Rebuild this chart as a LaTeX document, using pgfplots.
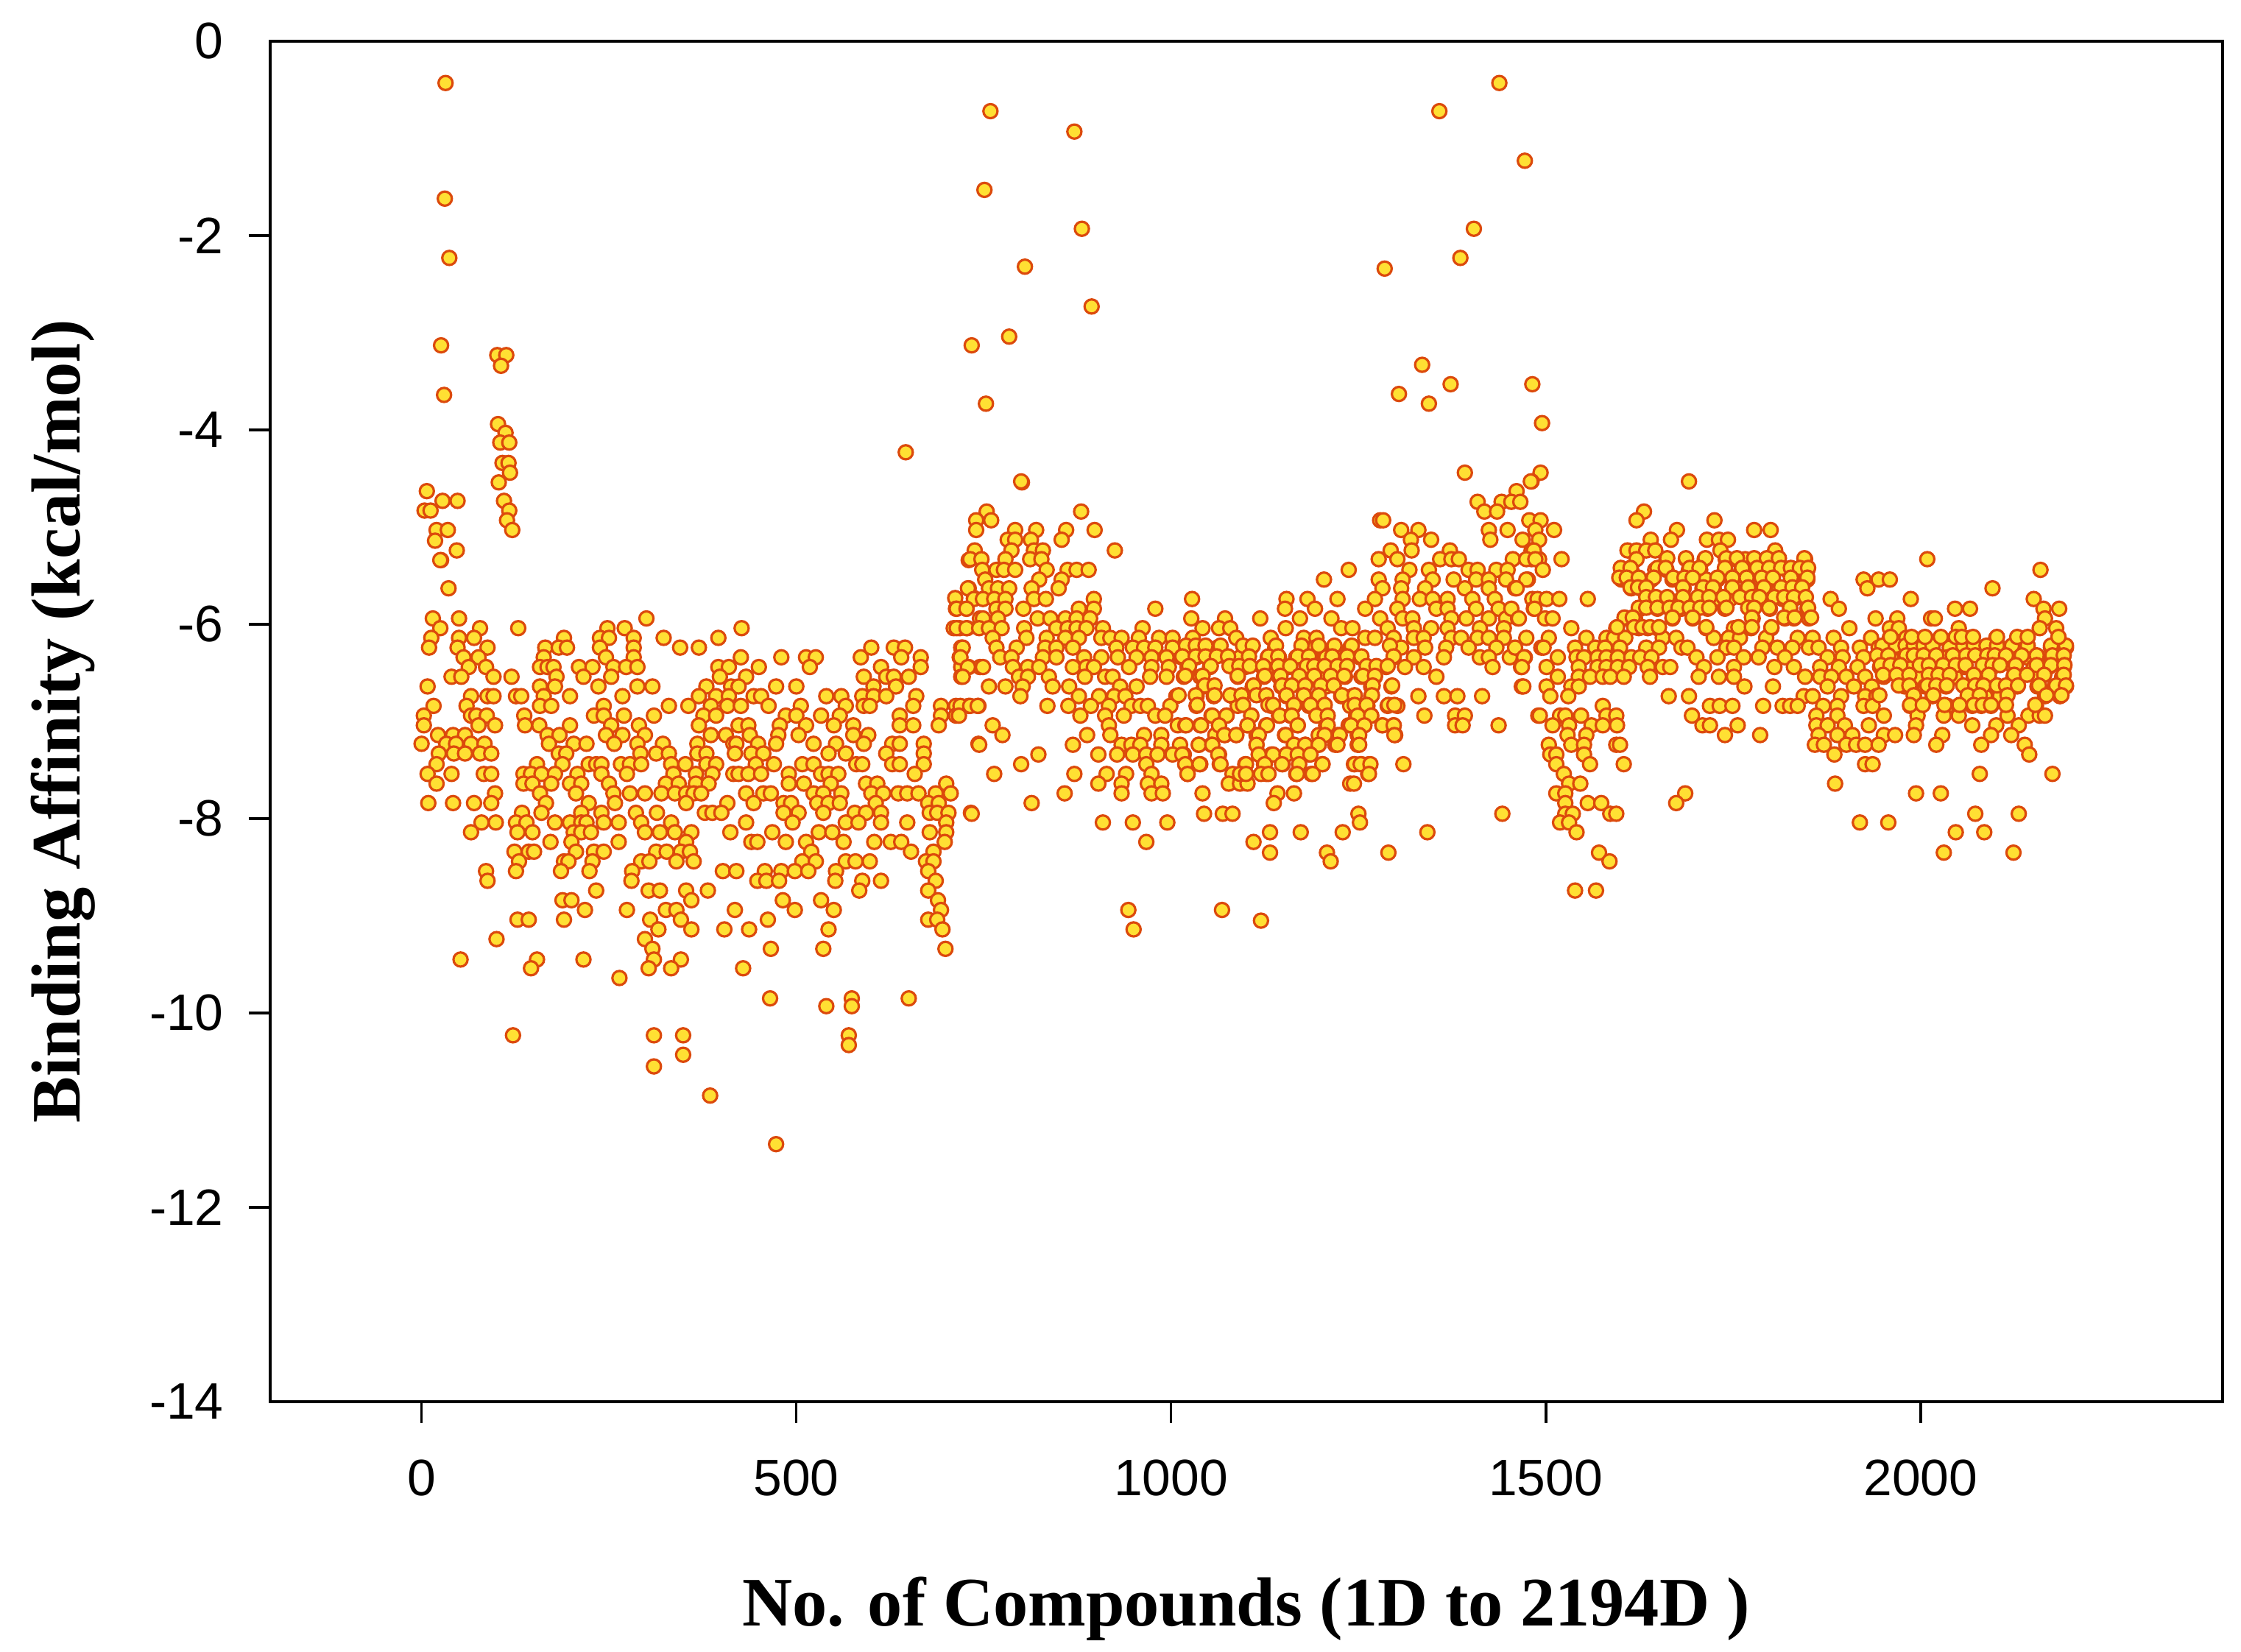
\documentclass[border=0pt]{standalone}
\usepackage{fontspec}
\setmainfont{Liberation Sans}
\newfontfamily\labelfont{Liberation Serif}
\usepackage{pgfplots}
\pgfplotsset{compat=1.18}
\definecolor{ptedge}{HTML}{DC4A0C}
\definecolor{ptfill}{HTML}{FFE033}
\begin{document}
\begin{tikzpicture}
\path[use as bounding box] (-91.75pt,-85pt) rectangle ++(761pt,561pt);
\begin{axis}[
  at={(0,0)},anchor=south west,
  scale only axis,
  width=663pt,height=462pt,
  xmin=-202,xmax=2403,
  ymin=-14,ymax=0,
  xtick={0,500,1000,1500,2000},
  ytick={-12,-10,-8,-6,-4,-2},
  extra y ticks={-14,0},
  extra y tick style={tick style={draw=none}},
  axis line style={line width=1.1pt},
  tick style={black,line width=0.9pt},
  tick align=outside,
  major tick length=7.3pt,
  xtick pos=bottom,ytick pos=left,
  /pgf/number format/assume math mode=true,
  /pgf/number format/1000 sep={},
  tick label style={font=\fontsize{17.4}{20}\selectfont},
  xticklabel style={yshift=-9pt},
  yticklabel style={xshift=-5pt},
  xlabel={\labelfont\bfseries No. of Compounds (1D to 2194D )},
  ylabel={\labelfont\bfseries Binding Affinity (kcal/mol)},
  label style={font=\fontsize{23.6}{26}\selectfont},
  xlabel style={at={(axis description cs:0.5,-0.152)},anchor=center},
  ylabel style={at={(axis description cs:-0.106,0.5)},anchor=center},
]
\addplot[only marks,mark=*,mark size=2.4pt,
  mark options={draw=ptedge,fill=ptfill,line width=0.8pt}] coordinates {
(32,-0.43)(31,-1.62)(37,-2.23)(26,-3.13)(101,-3.23)(113,-3.23)(106,-3.34)(30,-3.64)
(102,-3.94)(112,-4.03)(105,-4.13)(117,-4.13)(108,-4.34)(116,-4.34)(118,-4.44)(103,-4.54)
(110,-4.73)(117,-4.83)(114,-4.93)(121,-5.03)(7,-4.63)(28,-4.73)(48,-4.73)(4,-4.83)(12,-4.83)
(20,-5.03)(35,-5.03)(18,-5.14)(47,-5.24)(26,-5.34)(646,-4.23)
(759,-0.72)(751,-1.53)(734,-3.13)(784,-3.04)(753,-3.73)(871,-0.93)(881,-1.93)(805,-2.32)(894,-2.73)(801,-4.54)
(1285,-2.34)(1358,-0.72)(1438,-0.43)(1472,-1.23)(1404,-1.93)(1386,-2.23)(1335,-3.33)(1304,-3.63)(1344,-3.73)
(1373,-3.53)(1482,-3.53)(1495,-3.93)(1392,-4.44)(1493,-4.44)
(1481,-4.53)(1461,-4.63)(1409,-4.74)(1441,-4.74)(1454,-4.74)(1466,-4.74)(1418,-4.84)(1435,-4.84)
(1478,-4.93)(1493,-4.93)(1424,-5.03)(1449,-5.03)(1486,-5.03)(1469,-5.13)(1426,-5.13)(1481,-5.24)(1456,-5.33)(1481,-5.33)(1491,-5.33)(1476,-5.54)
(25,-5.34)(36,-5.63)(730,-5.34)(730,-5.63)(712,-5.73)(737,-5.73)(713,-5.84)(727,-5.84)(745,-5.94)(710,-6.04)(718,-6.04)(728,-6.04)
(15,-5.94)(50,-5.94)(300,-5.94)
(25,-6.04)(78,-6.04)(129,-6.04)(248,-6.04)(271,-6.04)(427,-6.04)
(13,-6.14)(50,-6.14)(70,-6.14)(190,-6.14)(238,-6.14)(250,-6.14)(283,-6.14)(323,-6.14)(396,-6.14)
(10,-6.24)(48,-6.24)(88,-6.24)(165,-6.24)(183,-6.24)(194,-6.24)(238,-6.24)(283,-6.24)(345,-6.24)(370,-6.24)(600,-6.24)(630,-6.24)(645,-6.24)(720,-6.24)
(56,-6.34)(76,-6.34)(163,-6.34)(246,-6.34)(283,-6.34)(426,-6.34)(480,-6.34)(513,-6.34)(526,-6.34)(586,-6.34)(640,-6.34)(666,-6.34)(718,-6.34)
(63,-6.44)(86,-6.44)(158,-6.44)(168,-6.44)(176,-6.44)(210,-6.44)(228,-6.44)(256,-6.44)(273,-6.44)(288,-6.44)(396,-6.44)(410,-6.44)(450,-6.44)(518,-6.44)(613,-6.44)(666,-6.44)(720,-6.44)(730,-6.44)(745,-6.44)
(40,-6.54)(53,-6.54)(96,-6.54)(120,-6.54)(180,-6.54)(216,-6.54)(253,-6.54)(398,-6.54)(433,-6.54)(590,-6.54)(620,-6.54)(630,-6.54)(650,-6.54)(720,-6.54)
(8,-6.64)(158,-6.64)(178,-6.64)(236,-6.64)(288,-6.64)(308,-6.64)(380,-6.64)(413,-6.64)(423,-6.64)(473,-6.64)(500,-6.64)(603,-6.64)(633,-6.64)
(66,-6.74)(88,-6.74)(96,-6.74)(126,-6.74)(133,-6.74)(163,-6.74)(198,-6.74)(268,-6.74)(370,-6.74)(393,-6.74)(410,-6.74)(443,-6.74)(453,-6.74)(540,-6.74)(560,-6.74)(588,-6.74)(603,-6.74)(620,-6.74)(660,-6.74)
(16,-6.84)(60,-6.84)(158,-6.84)(173,-6.84)(243,-6.84)(330,-6.84)(356,-6.84)(386,-6.84)(408,-6.84)(426,-6.84)(463,-6.84)(506,-6.84)(566,-6.84)(590,-6.84)(598,-6.84)(656,-6.84)(693,-6.84)(713,-6.84)(730,-6.84)(743,-6.84)
(3,-6.94)(66,-6.94)(73,-6.94)(87,-6.94)(137,-6.94)(230,-6.94)(243,-6.94)(270,-6.94)(310,-6.94)(376,-6.94)(393,-6.94)(486,-6.94)(500,-6.94)(533,-6.94)(558,-6.94)(638,-6.94)(693,-6.94)(713,-6.94)
(3,-7.04)(76,-7.04)(98,-7.04)(138,-7.04)(157,-7.04)(198,-7.04)(253,-7.04)(290,-7.04)(370,-7.04)(423,-7.04)(436,-7.04)(478,-7.04)(513,-7.04)(550,-7.04)(576,-7.04)(638,-7.04)(656,-7.04)(690,-7.04)
(22,-7.14)(42,-7.14)(58,-7.14)(168,-7.14)(184,-7.14)(246,-7.14)(268,-7.14)(298,-7.14)(386,-7.14)(406,-7.14)(438,-7.14)(476,-7.14)(503,-7.14)(576,-7.14)(596,-7.14)
(0,-7.23)(33,-7.23)(46,-7.23)(66,-7.23)(84,-7.23)(170,-7.23)(203,-7.23)(220,-7.23)(257,-7.23)(288,-7.23)(322,-7.23)(368,-7.23)(416,-7.23)(420,-7.23)(449,-7.23)(473,-7.23)(523,-7.23)(553,-7.23)(590,-7.23)(628,-7.23)(638,-7.23)(670,-7.23)(743,-7.23)
(23,-7.33)(43,-7.33)(58,-7.33)(78,-7.33)(93,-7.33)(183,-7.33)(193,-7.33)(292,-7.33)(313,-7.33)(330,-7.33)(368,-7.33)(380,-7.33)(418,-7.33)(440,-7.33)(456,-7.33)(543,-7.33)(566,-7.33)(620,-7.33)(670,-7.33)
(20,-7.44)(154,-7.44)(188,-7.44)(223,-7.44)(233,-7.44)(240,-7.44)(266,-7.44)(278,-7.44)(293,-7.44)(333,-7.44)(352,-7.44)(380,-7.44)(393,-7.44)(446,-7.44)(470,-7.44)(508,-7.44)(523,-7.44)(580,-7.44)(588,-7.44)(628,-7.44)(638,-7.44)(670,-7.44)
(8,-7.54)(40,-7.54)(83,-7.54)(93,-7.54)(136,-7.54)(146,-7.54)(160,-7.54)(178,-7.54)(208,-7.54)(240,-7.54)(274,-7.54)(336,-7.54)(366,-7.54)(388,-7.54)(416,-7.54)(423,-7.54)(436,-7.54)(453,-7.54)(490,-7.54)(533,-7.54)(543,-7.54)(556,-7.54)(658,-7.54)
(20,-7.64)(136,-7.64)(148,-7.64)(173,-7.64)(198,-7.64)(213,-7.64)(250,-7.64)(326,-7.64)(343,-7.64)(366,-7.64)(383,-7.64)(490,-7.64)(510,-7.64)(546,-7.64)(593,-7.64)(608,-7.64)(700,-7.64)
(98,-7.74)(158,-7.74)(206,-7.74)(256,-7.74)(278,-7.74)(298,-7.74)(320,-7.74)(338,-7.74)(353,-7.74)(363,-7.74)(373,-7.74)(433,-7.74)(456,-7.74)(466,-7.74)(523,-7.74)(536,-7.74)(560,-7.74)(600,-7.74)(616,-7.74)(636,-7.74)(648,-7.74)(663,-7.74)(686,-7.74)(706,-7.74)
(9,-7.84)(42,-7.84)(70,-7.84)(93,-7.84)(166,-7.84)(223,-7.84)(258,-7.84)(353,-7.84)(408,-7.84)(443,-7.84)(483,-7.84)(493,-7.84)(528,-7.84)(543,-7.84)(558,-7.84)(606,-7.84)(676,-7.84)(690,-7.84)
(134,-7.94)(160,-7.94)(213,-7.94)(240,-7.94)(286,-7.94)(314,-7.94)(378,-7.94)(388,-7.94)(400,-7.94)(483,-7.94)(503,-7.94)(536,-7.94)(578,-7.94)(593,-7.94)(613,-7.94)(678,-7.94)(688,-7.94)(703,-7.94)(733,-7.94)
(80,-8.04)(99,-8.04)(126,-8.04)(140,-8.04)(178,-8.04)(198,-8.04)(213,-8.04)(220,-8.04)(243,-8.04)(263,-8.04)(293,-8.04)(333,-8.04)(433,-8.04)(495,-8.04)(566,-8.04)(583,-8.04)(613,-8.04)(648,-8.04)(700,-8.04)
(66,-8.14)(128,-8.14)(148,-8.14)(203,-8.14)(213,-8.14)(226,-8.14)(298,-8.14)(318,-8.14)(338,-8.14)(360,-8.14)(412,-8.14)(468,-8.14)(530,-8.14)(548,-8.14)(678,-8.14)(700,-8.14)
(172,-8.24)(200,-8.24)(263,-8.24)(353,-8.24)(440,-8.24)(448,-8.24)(486,-8.24)(513,-8.24)(563,-8.24)(604,-8.24)(626,-8.24)(640,-8.24)(698,-8.24)
(124,-8.34)(143,-8.34)(150,-8.34)(206,-8.34)(230,-8.34)(243,-8.34)(313,-8.34)(327,-8.34)(346,-8.34)(358,-8.34)(520,-8.34)(653,-8.34)(683,-8.34)
(130,-8.44)(190,-8.44)(196,-8.44)(228,-8.44)(293,-8.44)(304,-8.44)(340,-8.44)(363,-8.44)(508,-8.44)(526,-8.44)(566,-8.44)(579,-8.44)(598,-8.44)(673,-8.44)(683,-8.44)
(86,-8.54)(126,-8.54)(186,-8.54)(224,-8.54)(281,-8.54)(402,-8.54)(420,-8.54)(458,-8.54)(480,-8.54)(498,-8.54)(516,-8.54)(553,-8.54)(676,-8.54)
(88,-8.64)(280,-8.64)(448,-8.64)(460,-8.64)(477,-8.64)(552,-8.64)(588,-8.64)(613,-8.64)(686,-8.64)
(233,-8.74)(303,-8.74)(318,-8.74)(353,-8.74)(382,-8.74)(584,-8.74)(676,-8.74)
(188,-8.84)(200,-8.84)(360,-8.84)(482,-8.84)(533,-8.84)(689,-8.84)
(218,-8.94)(274,-8.94)(326,-8.94)(340,-8.94)(418,-8.94)(498,-8.94)(550,-8.94)(693,-8.94)
(128,-9.04)(143,-9.04)(190,-9.04)(305,-9.04)(346,-9.04)(462,-9.04)(676,-9.04)(688,-9.04)
(316,-9.14)(360,-9.14)(404,-9.14)(437,-9.14)(543,-9.14)(695,-9.14)
(100,-9.24)(298,-9.24)(308,-9.34)(466,-9.34)(536,-9.34)(699,-9.34)
(52,-9.45)(154,-9.45)(216,-9.45)(310,-9.45)(346,-9.45)(146,-9.54)(303,-9.54)(333,-9.54)(429,-9.54)(264,-9.64)
(465,-9.85)(574,-9.85)(650,-9.85)(540,-9.93)(574,-9.93)(122,-10.23)(310,-10.23)(349,-10.23)(570,-10.23)(570,-10.33)(349,-10.43)(310,-10.55)(385,-10.85)(473,-11.35)
(800,-4.53)(754,-4.84)(880,-4.84)(740,-4.93)(760,-4.93)(1279,-4.93)(1283,-4.93)
(740,-5.03)(792,-5.03)(820,-5.03)(860,-5.03)(898,-5.03)(1307,-5.03)(1330,-5.03)
(782,-5.13)(792,-5.13)(813,-5.13)(854,-5.13)(1320,-5.13)(1347,-5.13)
(738,-5.24)(787,-5.24)(817,-5.24)(829,-5.24)(925,-5.24)(1293,-5.24)(1321,-5.24)(1372,-5.24)
(732,-5.33)(747,-5.33)(779,-5.33)(812,-5.33)(827,-5.33)(1277,-5.33)(1302,-5.33)(1359,-5.33)(1374,-5.33)(1384,-5.33)
(748,-5.44)(767,-5.44)(777,-5.44)(792,-5.44)(834,-5.44)(862,-5.44)(874,-5.44)(890,-5.44)(1237,-5.44)(1318,-5.44)(1344,-5.44)(1397,-5.44)(1409,-5.44)(1434,-5.44)(1449,-5.44)
(752,-5.54)(824,-5.54)(854,-5.54)(1204,-5.54)(1277,-5.54)(1309,-5.54)(1349,-5.54)(1377,-5.54)(1407,-5.54)(1424,-5.54)(1447,-5.54)(1474,-5.54)
(729,-5.63)(757,-5.63)(769,-5.63)(784,-5.63)(814,-5.63)(850,-5.63)(1282,-5.63)(1307,-5.63)(1339,-5.63)(1392,-5.63)(1424,-5.63)(1459,-5.63)
(737,-5.74)(749,-5.74)(764,-5.74)(779,-5.74)(817,-5.74)(833,-5.74)(897,-5.74)(1028,-5.74)(1154,-5.74)(1182,-5.74)(1222,-5.74)(1272,-5.74)(1309,-5.74)(1332,-5.74)(1349,-5.74)(1369,-5.74)(1402,-5.74)(1432,-5.74)(1482,-5.74)
(714,-5.84)(727,-5.84)(767,-5.84)(779,-5.84)(803,-5.84)(877,-5.84)(897,-5.84)(979,-5.84)(1152,-5.84)(1192,-5.84)(1259,-5.84)(1302,-5.84)(1354,-5.84)(1369,-5.84)(1407,-5.84)(1437,-5.84)(1484,-5.84)
(749,-5.94)(769,-5.94)(822,-5.94)(839,-5.94)(859,-5.94)(874,-5.94)(892,-5.94)(1027,-5.94)(1072,-5.94)(1119,-5.94)(1172,-5.94)(1214,-5.94)(1279,-5.94)(1309,-5.94)(1322,-5.94)(1374,-5.94)(1394,-5.94)(1424,-5.94)(1447,-5.94)(1463,-5.94)
(714,-6.04)(727,-6.04)(744,-6.04)(757,-6.04)(774,-6.04)(804,-6.04)(847,-6.04)(862,-6.04)(874,-6.04)(887,-6.04)(909,-6.04)(962,-6.04)(1042,-6.04)(1064,-6.04)(1079,-6.04)(1153,-6.04)(1227,-6.04)(1242,-6.04)(1289,-6.04)(1324,-6.04)(1347,-6.04)(1369,-6.04)(1412,-6.04)(1444,-6.04)
(762,-6.14)(807,-6.14)(834,-6.14)(859,-6.14)(877,-6.14)(907,-6.14)(919,-6.14)(934,-6.14)(957,-6.14)(984,-6.14)(1002,-6.14)(1029,-6.14)(1087,-6.14)(1133,-6.14)(1177,-6.14)(1194,-6.14)(1259,-6.14)(1272,-6.14)(1297,-6.14)(1324,-6.14)(1337,-6.14)(1374,-6.14)(1387,-6.14)(1409,-6.14)(1424,-6.14)(1444,-6.14)(1474,-6.14)
(722,-6.24)(767,-6.24)(794,-6.24)(832,-6.24)(847,-6.24)(869,-6.24)(927,-6.24)(949,-6.24)(964,-6.24)(979,-6.24)(1002,-6.24)(1027,-6.24)(1044,-6.24)(1062,-6.24)(1107,-6.24)(1139,-6.24)(1192,-6.24)(1217,-6.24)(1239,-6.24)(1307,-6.24)(1339,-6.24)(1367,-6.24)(1397,-6.24)(1434,-6.24)(1494,-6.24)
(719,-6.34)(772,-6.34)(787,-6.34)(829,-6.34)(847,-6.34)(884,-6.34)(907,-6.34)(929,-6.34)(954,-6.34)(974,-6.34)(994,-6.34)(1014,-6.34)(1034,-6.34)(1057,-6.34)(1074,-6.34)(1092,-6.34)(1129,-6.34)(1144,-6.34)(1167,-6.34)(1187,-6.34)(1207,-6.34)(1229,-6.34)(1252,-6.34)(1297,-6.34)(1324,-6.34)(1364,-6.34)(1412,-6.34)(1424,-6.34)(1452,-6.34)(1472,-6.34)
(729,-6.44)(749,-6.44)(789,-6.44)(809,-6.44)(824,-6.44)(869,-6.44)(887,-6.44)(897,-6.44)(944,-6.44)(974,-6.44)(997,-6.44)(1022,-6.44)(1052,-6.44)(1082,-6.44)(1099,-6.44)(1122,-6.44)(1139,-6.44)(1157,-6.44)(1184,-6.44)(1207,-6.44)(1234,-6.44)(1262,-6.44)(1287,-6.44)(1312,-6.44)(1337,-6.44)(1429,-6.44)(1467,-6.44)
(722,-6.54)(797,-6.54)(809,-6.54)(837,-6.54)(885,-6.54)(912,-6.54)(922,-6.54)(972,-6.54)(994,-6.54)(1017,-6.54)(1039,-6.54)(1089,-6.54)(1124,-6.54)(1144,-6.54)(1172,-6.54)(1197,-6.54)(1214,-6.54)(1232,-6.54)(1254,-6.54)(1272,-6.54)(1354,-6.54)
(757,-6.64)(779,-6.64)(802,-6.64)(842,-6.64)(864,-6.64)(932,-6.64)(954,-6.64)(1044,-6.64)(1057,-6.64)(1109,-6.64)(1147,-6.64)(1177,-6.64)(1207,-6.64)(1267,-6.64)(1294,-6.64)(1468,-6.64)
(799,-6.74)(877,-6.74)(904,-6.74)(924,-6.74)(939,-6.74)(1007,-6.74)(1034,-6.74)(1057,-6.74)(1082,-6.74)(1094,-6.74)(1127,-6.74)(1154,-6.74)(1177,-6.74)(1197,-6.74)(1227,-6.74)(1242,-6.74)(1267,-6.74)(1330,-6.74)(1364,-6.74)(1382,-6.74)(1415,-6.74)
(719,-6.84)(732,-6.84)(742,-6.84)(835,-6.84)(863,-6.84)(893,-6.84)(917,-6.84)(947,-6.84)(959,-6.84)(969,-6.84)(999,-6.84)(1034,-6.84)(1089,-6.84)(1134,-6.84)(1164,-6.84)(1184,-6.84)(1239,-6.84)(1262,-6.84)(1289,-6.84)(1302,-6.84)
(717,-6.94)(879,-6.94)(912,-6.94)(937,-6.94)(979,-6.94)(992,-6.94)(1054,-6.94)(1074,-6.94)(1107,-6.94)(1144,-6.94)(1159,-6.94)(1207,-6.94)(1247,-6.94)(1267,-6.94)(1338,-6.94)(1379,-6.94)(1392,-6.94)(1490,-6.94)
(762,-7.04)(917,-7.04)(1009,-7.04)(1019,-7.04)(1039,-7.04)(1064,-7.04)(1102,-7.04)(1127,-7.04)(1169,-7.04)(1207,-7.04)(1237,-7.04)(1257,-7.04)(1282,-7.04)(1297,-7.04)(1379,-7.04)(1389,-7.04)(1437,-7.04)
(775,-7.14)(888,-7.14)(919,-7.14)(964,-7.14)(987,-7.14)(1059,-7.14)(1072,-7.14)(1087,-7.14)(1114,-7.14)(1152,-7.14)(1197,-7.14)(1222,-7.14)(1249,-7.14)(1299,-7.14)
(744,-7.24)(869,-7.24)(934,-7.24)(947,-7.24)(959,-7.24)(987,-7.24)(1012,-7.24)(1037,-7.24)(1054,-7.24)(1114,-7.24)(1164,-7.24)(1179,-7.24)(1197,-7.24)(1219,-7.24)(1249,-7.24)
(823,-7.34)(903,-7.34)(928,-7.34)(949,-7.34)(967,-7.34)(982,-7.34)(1002,-7.34)(1017,-7.34)(1064,-7.34)(1117,-7.34)(1134,-7.34)(1154,-7.34)(1169,-7.34)(1184,-7.34)
(800,-7.44)(967,-7.44)(1019,-7.44)(1039,-7.44)(1065,-7.44)(1099,-7.44)(1124,-7.44)(1149,-7.44)(1202,-7.44)(1244,-7.44)(1254,-7.44)(1264,-7.44)(1310,-7.44)
(764,-7.54)(871,-7.54)(914,-7.54)(940,-7.54)(974,-7.54)(1022,-7.54)(1082,-7.54)(1099,-7.54)(1127,-7.54)(1167,-7.54)(1187,-7.54)(1263,-7.54)
(903,-7.64)(934,-7.64)(969,-7.64)(987,-7.64)(1077,-7.64)(1092,-7.64)(1102,-7.64)(1239,-7.64)(1244,-7.64)
(858,-7.74)(934,-7.74)(974,-7.74)(989,-7.74)(1042,-7.74)(1142,-7.74)(1164,-7.74)(814,-7.84)(1137,-7.84)
(734,-7.95)(1044,-7.95)(1069,-7.95)(1082,-7.95)(1250,-7.95)(1442,-7.95)(909,-8.04)(949,-8.04)(995,-8.04)(1252,-8.04)
(1132,-8.14)(1173,-8.14)(1229,-8.14)(1342,-8.14)(967,-8.24)(1110,-8.24)(1132,-8.35)(1208,-8.35)(1290,-8.35)(1213,-8.44)
(943,-8.94)(1068,-8.94)(1120,-9.05)(950,-9.14)
(1480,-4.53)(1691,-4.53)(1631,-4.84)(1621,-4.93)(1725,-4.93)(1511,-5.03)(1675,-5.03)(1778,-5.03)(1800,-5.03)
(1491,-5.13)(1640,-5.13)(1667,-5.13)(1715,-5.13)(1731,-5.13)(1743,-5.13)
(1484,-5.24)(1609,-5.24)(1621,-5.24)(1634,-5.24)(1646,-5.24)(1733,-5.24)(1806,-5.24)
(1474,-5.33)(1486,-5.33)(1521,-5.33)(1621,-5.33)(1661,-5.33)(1687,-5.33)(1712,-5.33)(1740,-5.33)(1754,-5.33)(1766,-5.33)(1779,-5.33)(1794,-5.33)(1810,-5.33)(1846,-5.33)(2009,-5.33)
(1496,-5.44)(1601,-5.44)(1614,-5.44)(1646,-5.44)(1661,-5.44)(1691,-5.44)(1706,-5.44)(1739,-5.44)(1761,-5.44)(1781,-5.44)(1796,-5.44)(1821,-5.44)(1836,-5.44)(1849,-5.44)(2160,-5.44)
(1601,-5.54)(1611,-5.54)(1624,-5.54)(1641,-5.54)(1669,-5.54)(1684,-5.54)(1714,-5.54)(1729,-5.54)(1749,-5.54)(1769,-5.54)(1786,-5.54)(1801,-5.54)(1829,-5.54)(1849,-5.54)(1924,-5.54)(1944,-5.54)(1959,-5.54)
(1461,-5.63)(1614,-5.63)(1626,-5.63)(1634,-5.63)(1684,-5.63)(1709,-5.63)(1724,-5.63)(1749,-5.63)(1771,-5.63)(1791,-5.63)(1811,-5.63)(1839,-5.63)(1929,-5.63)(2096,-5.63)
(1489,-5.74)(1501,-5.74)(1518,-5.74)(1556,-5.74)(1639,-5.74)(1651,-5.74)(1661,-5.74)(1681,-5.74)(1701,-5.74)(1726,-5.74)(1746,-5.74)(1771,-5.74)(1791,-5.74)(1816,-5.74)(1831,-5.74)(1846,-5.74)(1880,-5.74)(1987,-5.74)(2151,-5.74)
(1454,-5.84)(1485,-5.84)(1626,-5.84)(1649,-5.84)(1666,-5.84)(1681,-5.84)(1694,-5.84)(1716,-5.84)(1739,-5.84)(1776,-5.84)(1799,-5.84)(1826,-5.84)(1849,-5.84)(1891,-5.84)(2046,-5.84)(2066,-5.84)(2164,-5.84)(2185,-5.84)
(1464,-5.94)(1499,-5.94)(1509,-5.94)(1606,-5.94)(1619,-5.94)(1669,-5.94)(1696,-5.94)(1776,-5.94)(1819,-5.94)(1831,-5.94)(1851,-5.94)(1940,-5.94)(1969,-5.94)(2014,-5.94)(2019,-5.94)(2166,-5.94)
(1534,-6.04)(1594,-6.04)(1624,-6.04)(1636,-6.04)(1649,-6.04)(1714,-6.04)(1751,-6.04)(1774,-6.04)(1801,-6.04)(1905,-6.04)(1959,-6.04)(1971,-6.04)(2051,-6.04)(2159,-6.04)(2181,-6.04)
(1504,-6.14)(1554,-6.14)(1581,-6.14)(1591,-6.14)(1606,-6.14)(1656,-6.14)(1674,-6.14)(1724,-6.14)(1744,-6.14)(1759,-6.14)(1794,-6.14)(1836,-6.14)(1856,-6.14)(1884,-6.14)(1934,-6.14)(1959,-6.14)(1981,-6.14)(2004,-6.14)(2026,-6.14)(2046,-6.14)(2066,-6.14)(2101,-6.14)(2131,-6.14)(2141,-6.14)(2184,-6.14)
(1459,-6.24)(1497,-6.24)(1539,-6.24)(1566,-6.24)(1579,-6.24)(1599,-6.24)(1634,-6.24)(1651,-6.24)(1681,-6.24)(1689,-6.24)(1741,-6.24)(1751,-6.24)(1789,-6.24)(1809,-6.24)(1829,-6.24)(1851,-6.24)(1864,-6.24)(1894,-6.24)(1919,-6.24)(1944,-6.24)(1966,-6.24)(1989,-6.24)(2014,-6.24)(2039,-6.24)(2064,-6.24)(2091,-6.24)(2106,-6.24)(2131,-6.24)(2174,-6.24)(2194,-6.24)
(1471,-6.34)(1516,-6.34)(1541,-6.34)(1551,-6.34)(1569,-6.34)(1581,-6.34)(1596,-6.34)(1614,-6.34)(1626,-6.34)(1641,-6.34)(1701,-6.34)(1729,-6.34)(1764,-6.34)(1784,-6.34)(1819,-6.34)(1876,-6.34)(1896,-6.34)(1924,-6.34)(1946,-6.34)(1961,-6.34)(1981,-6.34)(2001,-6.34)(2026,-6.34)(2036,-6.34)(2059,-6.34)(2086,-6.34)(2099,-6.34)(2124,-6.34)(2141,-6.34)(2156,-6.34)(2189,-6.34)
(1468,-6.44)(1501,-6.44)(1544,-6.44)(1569,-6.44)(1581,-6.44)(1596,-6.44)(1611,-6.44)(1636,-6.44)(1656,-6.44)(1666,-6.44)(1711,-6.44)(1751,-6.44)(1805,-6.44)(1831,-6.44)(1866,-6.44)(1891,-6.44)(1916,-6.44)(1946,-6.44)(1966,-6.44)(1989,-6.44)(2011,-6.44)(2034,-6.44)(2059,-6.44)(2096,-6.44)(2124,-6.44)(2151,-6.44)(2171,-6.44)(2191,-6.44)
(1516,-6.54)(1544,-6.54)(1559,-6.54)(1576,-6.54)(1586,-6.54)(1604,-6.54)(1639,-6.54)(1704,-6.54)(1731,-6.54)(1751,-6.54)(1846,-6.54)(1866,-6.54)(1881,-6.54)(1901,-6.54)(1926,-6.54)(1951,-6.54)(1974,-6.54)(1996,-6.54)(2021,-6.54)(2046,-6.54)(2071,-6.54)(2091,-6.54)(2124,-6.54)(2156,-6.54)(2189,-6.54)
(1470,-6.64)(1501,-6.64)(1534,-6.64)(1544,-6.64)(1765,-6.64)(1803,-6.64)(1876,-6.64)(1911,-6.64)(1935,-6.64)(1979,-6.64)(1986,-6.64)(2006,-6.64)(2034,-6.64)(2059,-6.64)(2071,-6.64)(2084,-6.64)(2101,-6.64)(2114,-6.64)(2129,-6.64)(2156,-6.64)(2179,-6.64)(2194,-6.64)
(1506,-6.74)(1530,-6.74)(1664,-6.74)(1691,-6.74)(1844,-6.74)(1856,-6.74)(1894,-6.74)(1926,-6.74)(1941,-6.74)(1991,-6.74)(2016,-6.74)(2064,-6.74)(2086,-6.74)(2106,-6.74)(2166,-6.74)(2186,-6.74)
(1576,-6.84)(1719,-6.84)(1732,-6.84)(1749,-6.84)(1790,-6.84)(1816,-6.84)(1826,-6.84)(1836,-6.84)(1870,-6.84)(1889,-6.84)(1924,-6.84)(1936,-6.84)(1986,-6.84)(1999,-6.84)(2036,-6.84)(2051,-6.84)(2069,-6.84)(2081,-6.84)(2094,-6.84)(2154,-6.84)
(1492,-6.94)(1519,-6.94)(1526,-6.94)(1547,-6.94)(1581,-6.94)(1594,-6.94)(1695,-6.94)(1861,-6.94)(1889,-6.94)(1951,-6.94)(1996,-6.94)(2031,-6.94)(2051,-6.94)(2116,-6.94)(2144,-6.94)(2159,-6.94)(2166,-6.94)
(1509,-7.04)(1531,-7.04)(1561,-7.04)(1576,-7.04)(1595,-7.04)(1709,-7.04)(1719,-7.04)(1756,-7.04)(1861,-7.04)(1876,-7.04)(1899,-7.04)(1931,-7.04)(1994,-7.04)(2069,-7.04)(2101,-7.04)(2131,-7.04)
(1529,-7.14)(1554,-7.14)(1739,-7.14)(1786,-7.14)(1864,-7.14)(1889,-7.14)(1909,-7.14)(1951,-7.14)(1966,-7.14)(1991,-7.14)(2029,-7.14)(2094,-7.14)(2121,-7.14)
(1504,-7.24)(1534,-7.24)(1551,-7.24)(1594,-7.24)(1599,-7.24)(1859,-7.24)(1871,-7.24)(1901,-7.24)(1914,-7.24)(1926,-7.24)(1944,-7.24)(2021,-7.24)(2081,-7.24)(2139,-7.24)
(1506,-7.34)(1514,-7.34)(1551,-7.34)(1885,-7.34)(2145,-7.34)(1514,-7.44)(1559,-7.44)(1604,-7.44)(1926,-7.44)(1936,-7.44)
(1524,-7.54)(2079,-7.54)(2176,-7.54)(1531,-7.64)(1546,-7.64)(1886,-7.64)
(1514,-7.74)(1526,-7.74)(1686,-7.74)(1994,-7.74)(2027,-7.74)(1526,-7.84)(1556,-7.84)(1574,-7.84)(1674,-7.84)
(1526,-7.95)(1536,-7.95)(1586,-7.95)(1594,-7.95)(2073,-7.95)(2131,-7.95)(1519,-8.04)(1531,-8.04)(1919,-8.04)(1957,-8.04)
(1541,-8.14)(2047,-8.14)(2085,-8.14)(1571,-8.35)(2031,-8.35)(2124,-8.35)(1585,-8.44)(1539,-8.74)(1567,-8.74)
(1949,-6.22)(1967,-6.22)(1980,-6.22)(1991,-6.22)(2004,-6.22)(2016,-6.22)(2057,-6.22)(2071,-6.22)(2088,-6.22)(2102,-6.22)(2122,-6.22)(2143,-6.22)(2174,-6.22)(2194,-6.22)
(1942,-6.32)(1957,-6.32)(1981,-6.32)(1991,-6.32)(2004,-6.32)(2021,-6.32)(2043,-6.32)(2061,-6.32)(2073,-6.32)(2089,-6.32)(2099,-6.32)(2114,-6.32)(2135,-6.32)(2155,-6.32)(2176,-6.32)(2191,-6.32)
(1947,-6.42)(1960,-6.42)(1973,-6.42)(1999,-6.42)(2011,-6.42)(2030,-6.42)(2047,-6.42)(2060,-6.42)(2083,-6.42)(2096,-6.42)(2106,-6.42)(2127,-6.42)(2155,-6.42)(2174,-6.42)(2192,-6.42)
(1950,-6.52)(1968,-6.52)(1985,-6.52)(2011,-6.52)(2024,-6.52)(2039,-6.52)(2071,-6.52)(2091,-6.52)(2125,-6.52)(2142,-6.52)(2165,-6.52)(2191,-6.52)
(1971,-6.63)(1985,-6.63)(2009,-6.63)(2021,-6.63)(2035,-6.63)(2057,-6.63)(2073,-6.63)(2084,-6.63)(2102,-6.63)(2114,-6.63)(2130,-6.63)(2158,-6.63)(2181,-6.63)(2194,-6.63)
(1945,-6.73)(1991,-6.73)(2017,-6.73)(2063,-6.73)(2079,-6.73)(2116,-6.73)(2168,-6.73)(2188,-6.73)
(1986,-6.83)(2003,-6.83)(2032,-6.83)(2052,-6.83)(2071,-6.83)(2083,-6.83)(2094,-6.83)(2114,-6.83)(2153,-6.83)
(1960,-6.13)(1988,-6.13)(2006,-6.13)(2027,-6.13)(2047,-6.13)(2055,-6.13)(2070,-6.13)(2102,-6.13)(2129,-6.13)(2143,-6.13)(2184,-6.13)
(1662,-5.32)(1687,-5.32)(1713,-5.32)(1741,-5.32)(1755,-5.32)(1778,-5.32)(1795,-5.32)(1811,-5.32)(1845,-5.32)
(1600,-5.42)(1613,-5.42)(1649,-5.42)(1660,-5.42)(1692,-5.42)(1705,-5.42)(1739,-5.42)(1762,-5.42)(1782,-5.42)(1798,-5.42)(1814,-5.42)(1827,-5.42)(1839,-5.42)(1850,-5.42)
(1598,-5.52)(1608,-5.52)(1624,-5.52)(1644,-5.52)(1670,-5.52)(1685,-5.52)(1696,-5.52)(1729,-5.52)(1749,-5.52)(1768,-5.52)(1788,-5.52)(1803,-5.52)(1827,-5.52)(1849,-5.52)
(1613,-5.62)(1623,-5.62)(1634,-5.62)(1683,-5.62)(1710,-5.62)(1723,-5.62)(1749,-5.62)(1770,-5.62)(1791,-5.62)(1814,-5.62)(1829,-5.62)(1842,-5.62)
(1634,-5.72)(1647,-5.72)(1662,-5.72)(1683,-5.72)(1703,-5.72)(1718,-5.72)(1737,-5.72)(1759,-5.72)(1775,-5.72)(1785,-5.72)(1805,-5.72)(1818,-5.72)(1831,-5.72)(1847,-5.72)
(1624,-5.83)(1634,-5.83)(1649,-5.83)(1665,-5.83)(1677,-5.83)(1692,-5.83)(1706,-5.83)(1718,-5.83)(1741,-5.83)(1770,-5.83)(1778,-5.83)(1798,-5.83)(1826,-5.83)(1850,-5.83)
(1605,-5.93)(1616,-5.93)(1669,-5.93)(1696,-5.93)(1775,-5.93)(1818,-5.93)(1832,-5.93)(1854,-5.93)
(1595,-6.03)(1618,-6.03)(1629,-6.03)(1639,-6.03)(1651,-6.03)(1714,-6.03)(1757,-6.03)(1775,-6.03)(1801,-6.03)
(1020,-6.22)(1033,-6.22)(1046,-6.22)(1066,-6.22)(1096,-6.22)(1109,-6.22)(1140,-6.22)(1174,-6.22)(1197,-6.22)(1218,-6.22)(1241,-6.22)(1292,-6.22)
(1015,-6.33)(1033,-6.33)(1046,-6.33)(1061,-6.33)(1076,-6.33)(1104,-6.33)(1130,-6.33)(1143,-6.33)(1169,-6.33)(1184,-6.33)(1215,-6.33)(1235,-6.33)(1254,-6.33)(1297,-6.33)
(1024,-6.43)(1053,-6.43)(1078,-6.43)(1091,-6.43)(1105,-6.43)(1123,-6.43)(1143,-6.43)(1159,-6.43)(1181,-6.43)(1191,-6.43)(1205,-6.43)(1222,-6.43)(1235,-6.43)(1261,-6.43)(1274,-6.43)(1289,-6.43)
(1019,-6.53)(1042,-6.53)(1089,-6.53)(1125,-6.53)(1146,-6.53)(1171,-6.53)(1191,-6.53)(1213,-6.53)(1231,-6.53)(1256,-6.53)(1272,-6.53)
(1045,-6.63)(1058,-6.63)(1110,-6.63)(1148,-6.63)(1161,-6.63)(1179,-6.63)(1200,-6.63)(1217,-6.63)(1269,-6.63)(1295,-6.63)
(1010,-6.73)(1033,-6.73)(1058,-6.73)(1079,-6.73)(1094,-6.73)(1114,-6.73)(1127,-6.73)(1154,-6.73)(1177,-6.73)(1197,-6.73)(1228,-6.73)(1245,-6.73)(1268,-6.73)
(1035,-6.83)(1096,-6.83)(1130,-6.83)(1136,-6.83)(1164,-6.83)(1186,-6.83)(1205,-6.83)(1245,-6.83)(1261,-6.83)(1290,-6.83)(1298,-6.83)
(1055,-6.94)(1074,-6.94)(1107,-6.94)(1145,-6.94)(1161,-6.94)(1194,-6.94)(1209,-6.94)(1249,-6.94)(1267,-6.94)
(1020,-7.04)(1040,-7.04)(1064,-7.04)(1102,-7.04)(1128,-7.04)(1169,-7.04)(1209,-7.04)(1240,-7.04)(1258,-7.04)(1282,-7.04)(1297,-7.04)
(1071,-7.14)(1087,-7.14)(1117,-7.14)(1153,-7.14)(1205,-7.14)(1225,-7.14)(1251,-7.14)(1298,-7.14)
(1037,-7.24)(1055,-7.24)(1114,-7.24)(1164,-7.24)(1179,-7.24)(1197,-7.24)(1222,-7.24)(1251,-7.24)
(1015,-7.34)(1063,-7.34)(1117,-7.34)(1136,-7.34)(1154,-7.34)(1169,-7.34)(1186,-7.34)
(1019,-7.44)(1038,-7.44)(1066,-7.44)(1100,-7.44)(1125,-7.44)(1148,-7.44)(1171,-7.44)(1202,-7.44)(1245,-7.44)(1253,-7.44)(1266,-7.44)
(1022,-7.54)(1092,-7.54)(1100,-7.54)(1120,-7.54)(1130,-7.54)(1168,-7.54)(1189,-7.54)(1264,-7.54)
};
\end{axis}
\end{tikzpicture}
\end{document}
